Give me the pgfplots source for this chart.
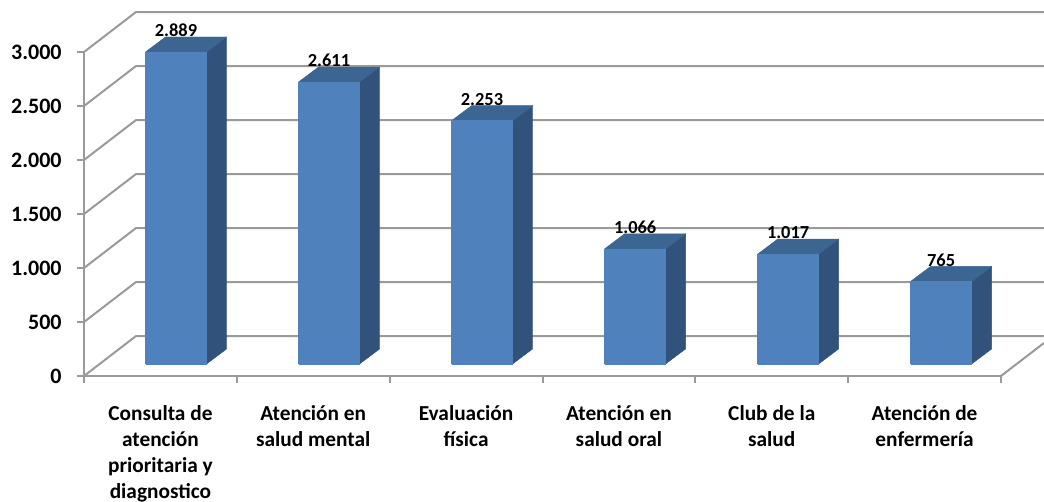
\documentclass[border=0pt]{standalone}
\usepackage{pgfplots}
\usepackage{fontspec}
\setmainfont{Carlito}
\pgfplotsset{compat=1.18}
\definecolor{gridc}{HTML}{9A9A9A}
\definecolor{frontc}{HTML}{4F81BD}
\definecolor{sidec}{HTML}{31537B}
\definecolor{topc}{HTML}{3C6592}
% i, value: front, side and top of a 3D bar
\newcommand{\cubebar}[2]{%
  \pgfmathsetmacro{\xa}{#1*1.0012+0.4024}%
  \pgfmathsetmacro{\xb}{#1*1.0012+0.8015}%
  \pgfmathsetmacro{\xc}{#1*1.0012+0.9324}%
  \pgfmathsetmacro{\xd}{#1*1.0012+0.5333}%
  \pgfmathsetmacro{\yt}{#2+111}%
  \pgfmathsetmacro{\yu}{#2+250}%
  \addplot[fill=sidec,draw=sidec,line width=0.3pt,forget plot] coordinates {(\xb,111) (\xb,\yt) (\xc,\yu) (\xc,250) (\xb,111)};
  \addplot[fill=topc,draw=topc,line width=0.3pt,forget plot] coordinates {(\xa,\yt) (\xb,\yt) (\xc,\yu) (\xd,\yu) (\xa,\yt)};
  \addplot[fill=frontc,draw=frontc,line width=0.3pt,forget plot] coordinates {(\xa,111) (\xb,111) (\xb,\yt) (\xa,\yt) (\xa,111)};
}
% one level of the back wall and left wall
\newcommand{\wall}[1]{%
  \pgfmathsetmacro{\ya}{#1+370}%
  \addplot[gridc,line width=1.5pt,forget plot] coordinates {(0,#1) (0.3402,\ya) (6.2815,\ya)};
}
\begin{document}
\begin{tikzpicture}
\path[use as bounding box] (-63pt,-94.5pt) rectangle (720pt,282pt);
\begin{axis}[
  at={(0,0)},anchor=south west,
  scale only axis,width=687.75pt,height=243pt,
  xmin=0,xmax=6,ymin=0,ymax=3000,clip=false,
  axis lines=left,
  axis line style={-,gridc,line width=1.5pt},
  tick style={gridc,line width=1.5pt},
  tick align=outside,
  ytick={0,500,1000,1500,2000,2500,3000},
  major tick length=5.25pt,
  minor tick length=5.25pt,
  xtick={0.5,1.5,2.5,3.5,4.5,5.5},
  x tick style={draw=none},
  minor xtick={0,1,2,3,4,5,6},
  minor x tick style={gridc,line width=1.5pt,draw=gridc},
  xticklabels={{Consulta de\\atención\\prioritaria y\\diagnostico},{Atención en\\salud mental},{Evaluación\\física},{Atención en\\salud oral},{Club de la\\salud},{Atención de\\enfermería}},
  xticklabel style={align=center,font=\fontsize{16}{19.5}\selectfont\bfseries,yshift=-13pt},
  yticklabel style={font=\fontsize{16.5}{18}\selectfont\bfseries,xshift=-8pt},
  /pgf/number format/assume math mode=true,
  /pgf/number format/1000 sep={.},
  scaled y ticks=false,
]
\wall{0}\wall{500}\wall{1000}\wall{1500}\wall{2000}\wall{2500}\wall{3000}
\addplot[gridc,line width=1.5pt,forget plot] coordinates {(6,0) (6.2815,306)};
\cubebar{0}{2889}
\cubebar{1}{2611}
\cubebar{2}{2253}
\cubebar{3}{1066}
\cubebar{4}{1017}
\cubebar{5}{765}
\addplot[draw=none,forget plot,point meta=explicit symbolic,
  nodes near coords,
  every node near coord/.style={anchor=center,yshift=16pt,text=black,font=\fontsize{13.8}{15}\selectfont\bfseries}]
  coordinates {(0.602,3000)[2.889] (1.603,2722)[2.611] (2.604,2364)[2.253] (3.606,1177)[1.066] (4.607,1128)[1.017] (5.608,876)[765]};
\end{axis}
\end{tikzpicture}
\end{document}
